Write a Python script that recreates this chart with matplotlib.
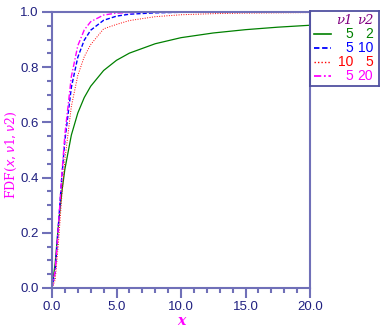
import numpy as np
import matplotlib
matplotlib.use("Agg")
import matplotlib.pyplot as plt

# values
x = [0, 0.25, 0.5, 0.75, 1, 1.5, 2, 2.5, 3, 4, 5, 6, 8, 10, 12.5, 15, 17.5, 20]
cdf_5_2 = [0, 0.092, 0.230, 0.344, 0.431, 0.554, 0.634, 0.690, 0.731, 0.788,
           0.825, 0.851, 0.885, 0.907, 0.924, 0.936, 0.945, 0.952]
cdf_5_10 = [0, 0.061, 0.230, 0.396, 0.535, 0.727, 0.836, 0.898, 0.934, 0.970,
            0.985, 0.992, 0.997, 0.999, 0.9996, 0.9998, 0.9999, 1.0]
cdf_10_5 = [0, 0.030, 0.164, 0.326, 0.465, 0.658, 0.770, 0.838, 0.882, 0.939,
            0.955, 0.969, 0.983, 0.990, 0.994, 0.996, 0.997, 0.998]
cdf_5_20 = [0, 0.065, 0.227, 0.404, 0.557, 0.766, 0.878, 0.935, 0.965, 0.989,
            0.996, 0.998, 0.9997, 0.9999, 1.0, 1.0, 1.0, 1.0]

nu1 = ["5", "5", "10", "5"]
nu2 = ["2", "10", "5", "20"]
series = [cdf_5_2, cdf_5_10, cdf_10_5, cdf_5_20]
colors = ["#008000", "#0000ff", "#ff0000", "#ff00ff"]
styles = ["-", (0, (3, 1.5)), (0, (1, 1.5)), (0, (4, 1.5, 1, 1.5))]
widths = [0.9, 1.0, 0.7, 1.0]

axis_col = "#7070b8"
tick_col = "#202080"

fig = plt.figure(figsize=(3.86, 3.28), dpi=100)
ax = fig.add_axes([52/386, 40/328, 258/386, 276/328])

for ys, c, ls, lw in zip(series, colors, styles, widths):
    ax.plot(x, ys, color=c, linestyle=ls, linewidth=lw)

ax.set_xlim(0, 20)
ax.set_ylim(0, 1)
ax.set_xticks(np.arange(0, 20.1, 5))
ax.set_xticks(np.arange(0, 20.1, 1), minor=True)
ax.set_yticks(np.arange(0, 1.01, 0.2))
ax.set_yticks(np.arange(0, 1.01, 0.05), minor=True)
ax.set_xticklabels(["%.1f" % v for v in np.arange(0, 20.1, 5)])
ax.set_yticklabels(["%.1f" % v for v in np.arange(0, 1.01, 0.2)])
for s in ax.spines.values():
    s.set_color(axis_col)
    s.set_linewidth(1.5)
ax.tick_params(which="both", direction="out", color=axis_col, width=1.5,
               labelcolor=tick_col, labelsize=9.5, top=False, right=False)
ax.tick_params(which="major", length=7, pad=2.5)
ax.tick_params(which="minor", length=3.5)
for lab in ax.get_xticklabels() + ax.get_yticklabels():
    lab.set_family("Liberation Sans")

fig.text(181/386, 1 - 321/328, "x", color="#ff00ff", fontsize=10,
         family="DejaVu Serif", style="italic", fontweight="bold",
         ha="center", va="center")
fig.text(11/386, 1 - 155/328, r"FDF($\mathit{x},\mathit{\nu}$1$,\mathit{\nu}$2)",
         color="#ff00ff", fontsize=9, family="DejaVu Serif",
         rotation=90, ha="center", va="center")

# legend box to the right of the plot
lg = fig.add_axes([310/386, (328-86)/328, 69/386, 75/328])
lg.set_xlim(0, 69)
lg.set_ylim(75, 0)
lg.set_xticks([])
lg.set_yticks([])
for s in lg.spines.values():
    s.set_color("#5050a0")
    s.set_linewidth(1.3)
lg.patch.set_alpha(0)
lg.text(42, 10, "ν1", color="#800080", ha="right", va="center",
        fontsize=9.5, family="DejaVu Serif", style="italic")
lg.text(63, 10, "ν2", color="#800080", ha="right", va="center",
        fontsize=9.5, family="DejaVu Serif", style="italic")
for i in range(4):
    yy = 23 + i * 14
    lg.plot([4, 21], [yy, yy], color=colors[i], linestyle=styles[i],
            linewidth=widths[i] + 0.3)
    lg.text(43, yy, nu1[i], color=colors[i], ha="right", va="center",
            fontsize=10, family="Liberation Sans")
    lg.text(63, yy, nu2[i], color=colors[i], ha="right", va="center",
            fontsize=10, family="Liberation Sans")

fig.savefig("out.png", dpi=100)
